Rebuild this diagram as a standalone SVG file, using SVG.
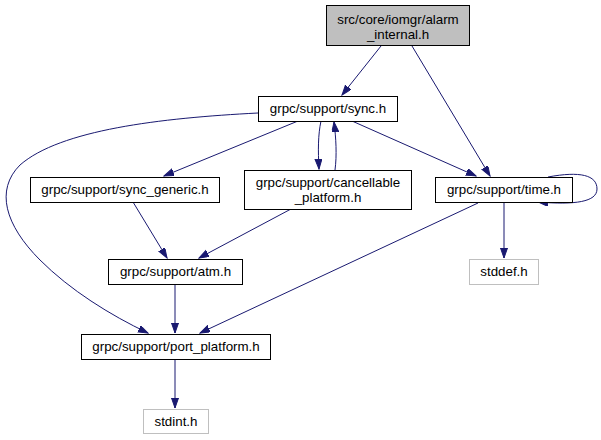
<svg xmlns="http://www.w3.org/2000/svg" width="601" height="440" viewBox="0 0 601 440">
<defs>
<marker id="ah" markerUnits="userSpaceOnUse" markerWidth="11" markerHeight="8" refX="10" refY="3.5" orient="auto">
<path d="M0,0 L10,3.5 L0,7 z" fill="#191970" stroke="#191970" stroke-width="1"/>
</marker>
</defs>
<style>
.n rect{fill:#ffffff;stroke:#000000;stroke-width:1}
.n.g rect{fill:#bfbfbf;stroke:#000000}
.n.x rect{stroke:#bfbfbf}
text{font-family:"Liberation Sans",Arial,Helvetica,sans-serif;font-size:13.33px;fill:#000000;text-anchor:middle}
.e path{fill:none;stroke:#191970;stroke-width:1;marker-end:url(#ah)}
</style>
<rect width="601" height="440" fill="#ffffff"/>
<g class="e" id="connectors">
<path d="M381,46 L342,95"/>
<path d="M412,46 L490,176"/>
<path d="M298,121 L164,176"/>
<path d="M258,113 C160,118 60,130 20,165 C-5,190 5,225 40,260 C70,290 110,315 148,333"/>
<path d="M352,121 L476,176"/>
<path d="M321,121 C318,135 318,150 319,169"/>
<path d="M335,170 C337,155 336,138 334,122"/>
<path d="M133,202 L167,258"/>
<path d="M291,209 L199,258"/>
<path d="M175,284 L175,333"/>
<path d="M478,203 L200,333"/>
<path d="M504,203 L504,258"/>
<path d="M548,177 C580,171 597,175 597,189 C597,202 575,205 538,202"/>
<path d="M175,359 L175,408"/>
</g>
<g class="n g" id="node-alarm-internal">
<rect x="326.5" y="5.5" width="143" height="40"/>
<text x="398" y="24">src/core/iomgr/alarm</text>
<text x="398" y="38.5">_internal.h</text>
</g>
<g class="n" id="node-sync">
<rect x="258.5" y="96.5" width="139" height="25"/>
<text x="328" y="113">grpc/support/sync.h</text>
</g>
<g class="n" id="node-sync-generic">
<rect x="30.5" y="177.5" width="189" height="25"/>
<text x="125" y="194">grpc/support/sync_generic.h</text>
</g>
<g class="n" id="node-cancellable">
<rect x="244.5" y="170.5" width="167" height="39"/>
<text x="328" y="187">grpc/support/cancellable</text>
<text x="328" y="202">_platform.h</text>
</g>
<g class="n" id="node-time">
<rect x="435.5" y="177.5" width="137" height="25"/>
<text x="504" y="194">grpc/support/time.h</text>
</g>
<g class="n x" id="node-stddef">
<rect x="469.5" y="259.5" width="69" height="25"/>
<text x="504" y="276">stddef.h</text>
</g>
<g class="n" id="node-atm">
<rect x="108.5" y="259.5" width="134" height="25"/>
<text x="175.5" y="276">grpc/support/atm.h</text>
</g>
<g class="n" id="node-port-platform">
<rect x="81.5" y="334.5" width="189" height="25"/>
<text x="176" y="351">grpc/support/port_platform.h</text>
</g>
<g class="n x" id="node-stdint">
<rect x="143.5" y="409.5" width="65" height="24"/>
<text x="176" y="426">stdint.h</text>
</g>
</svg>
